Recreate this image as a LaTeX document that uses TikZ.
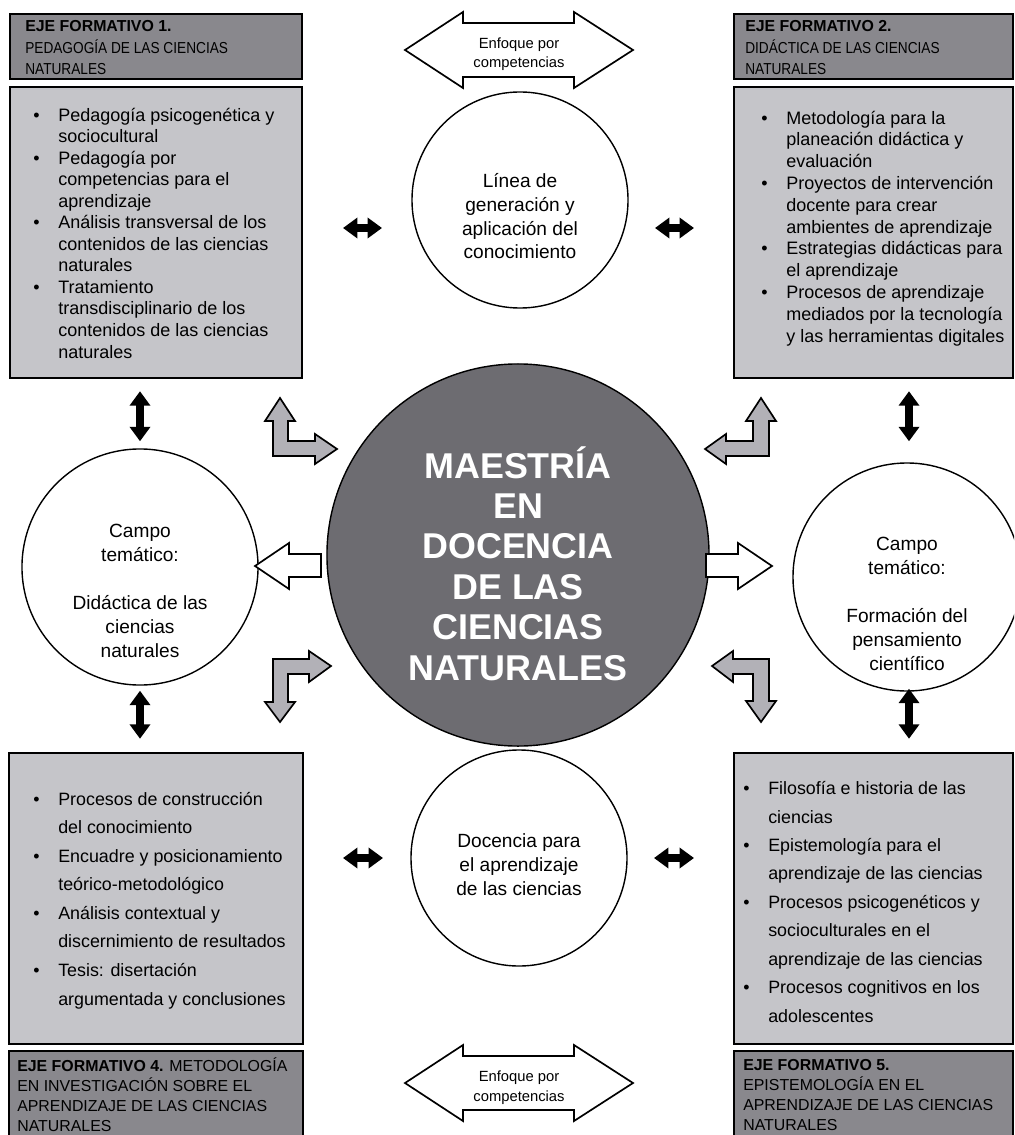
\documentclass[tikz,border=0pt]{standalone}
\usepackage{fontspec}
\setmainfont{Liberation Sans}
\newfontfamily\angosta[FakeStretch=0.86]{Liberation Sans}
\usetikzlibrary{arrows.meta,calc}

\definecolor{ejegris}{RGB}{137,136,141}
\definecolor{cajagris}{RGB}{197,197,201}
\definecolor{centrogris}{RGB}{109,108,113}
\definecolor{girogris}{RGB}{178,177,183}

\newcommand{\punto}{\makebox[0.625cm][l]{\textbullet}}
\newcommand{\sigue}{\hspace*{0.625cm}}

\tikzset{
  eje/.style={draw, line width=1.4pt, fill=ejegris, anchor=north west, inner sep=0pt},
  caja/.style={draw, line width=1.4pt, fill=cajagris, anchor=north west, inner sep=0pt},
  ejetexto/.style={anchor=base west, align=left, inner sep=0pt},
  lista/.style={anchor=base west, align=left, inner sep=0pt},
  circulo/.style={circle, draw, line width=1pt, fill=white, inner sep=0pt},
  circtexto/.style={anchor=base, align=center, inner sep=0pt, font=\fontsize{13.6}{17}\selectfont},
  bloque/.style={draw, line width=1.2pt, line join=miter},
  enfoque/.style={anchor=base, align=center, inner sep=0pt, font=\fontsize{10.5}{14}\selectfont},
  doble/.style={line width=1.8mm, <->, >={Triangle[length=3.6mm,width=5mm]}},
}

\begin{document}
\begin{tikzpicture}[x=0.025cm, y=-0.025cm]
\useasboundingbox (0,0) rectangle (1014,1135);
\clip (0,0) rectangle (1014,1135);

% ejes formativos
\node[eje, minimum width=7.3cm, minimum height=1.625cm] (eje1) at (9,13) {};
\node[caja, minimum width=7.3cm, minimum height=7.275cm] (caja1) at (9,86) {};
\node[eje, minimum width=6.975cm, minimum height=1.625cm] (eje2) at (733,13) {};
\node[caja, minimum width=6.975cm, minimum height=7.275cm] (caja2) at (733,86) {};
\node[caja, minimum width=7.35cm, minimum height=7.275cm] (caja4) at (8,752) {};
\node[eje, minimum width=7.35cm, minimum height=2.5cm] (eje4) at (8,1050) {};
\node[caja, minimum width=6.975cm, minimum height=7.275cm] (caja5) at (733,752) {};
\node[eje, minimum width=6.975cm, minimum height=2.5cm] (eje5) at (733,1050) {};

% textos (base = ultima linea)
\node[ejetexto, font=\fontsize{11.3}{15.4}\selectfont] (tit1) at (25,75)
  {\textbf{EJE FORMATIVO 1.}\\{\angosta PEDAGOGÍA DE LAS CIENCIAS}\\{\angosta NATURALES}};
\node[ejetexto, font=\fontsize{11.3}{15.4}\selectfont] (tit2) at (745,75)
  {\textbf{EJE FORMATIVO 2.}\\{\angosta DIDÁCTICA DE LAS CIENCIAS}\\{\angosta NATURALES}};
\node[ejetexto, font=\fontsize{11.3}{14.2}\selectfont] (tit4) at (17,1131)
  {\textbf{EJE FORMATIVO 4.} METODOLOGÍA\\EN INVESTIGACIÓN SOBRE EL\\APRENDIZAJE DE LAS CIENCIAS\\NATURALES};
\node[ejetexto, font=\fontsize{11.3}{14.2}\selectfont] (tit5) at (743,1130)
  {\textbf{EJE FORMATIVO 5.}\\EPISTEMOLOGÍA EN EL\\APRENDIZAJE DE LAS CIENCIAS\\NATURALES};

\node[lista, font=\fontsize{12.8}{15.3}\selectfont] (lista1) at (33,358)
  {\punto Pedagogía psicogenética y\\\sigue sociocultural\\
   \punto Pedagogía por\\\sigue competencias para el\\\sigue aprendizaje\\
   \punto Análisis transversal de los\\\sigue contenidos de las ciencias\\\sigue naturales\\
   \punto Tratamiento\\\sigue transdisciplinario de los\\\sigue contenidos de las ciencias\\\sigue naturales};
\node[lista, font=\fontsize{12.8}{15.5}\selectfont] (lista2) at (761,342)
  {\punto Metodología para la\\\sigue planeación didáctica y\\\sigue evaluación\\
   \punto Proyectos de intervención\\\sigue docente para crear\\\sigue ambientes de aprendizaje\\
   \punto Estrategias didácticas para\\\sigue el aprendizaje\\
   \punto Procesos de aprendizaje\\\sigue mediados por la tecnología\\\sigue y las herramientas digitales};
\node[lista, font=\fontsize{12.7}{20.3}\selectfont] (lista4) at (33,1005)
  {\punto Procesos de construcción\\\sigue del conocimiento\\
   \punto Encuadre y posicionamiento\\\sigue teórico-metodológico\\
   \punto Análisis contextual y\\\sigue discernimiento de resultados\\
   \punto Tesis: disertación\\\sigue argumentada y conclusiones};
\node[lista, font=\fontsize{12.7}{20.2}\selectfont] (lista5) at (743,1022)
  {\punto Filosofía e historia de las\\\sigue ciencias\\
   \punto Epistemología para el\\\sigue aprendizaje de las ciencias\\
   \punto Procesos psicogenéticos y\\\sigue socioculturales en el\\\sigue aprendizaje de las ciencias\\
   \punto Procesos cognitivos en los\\\sigue adolescentes};

% enfoque por competencias
\draw[bloque, fill=white] (405,50) -- ++(58,-38) -- ++(0,11) -- ++(111,0) -- ++(0,-11)
  -- ++(59,38) -- ++(-59,38) -- ++(0,-11) -- ++(-111,0) -- ++(0,11) -- cycle;
\node[enfoque] (enfA) at (519,68) {Enfoque por\\competencias};
\draw[bloque, fill=white] (405,1083) -- ++(58,-38) -- ++(0,11) -- ++(111,0) -- ++(0,-11)
  -- ++(59,38) -- ++(-59,38) -- ++(0,-11) -- ++(-111,0) -- ++(0,11) -- cycle;
\node[enfoque] (enfB) at (519,1101) {Enfoque por\\competencias};

% circulos
\node[circulo, minimum size=5.4cm] (lgac) at (520,200) {};
\node[circtexto] (lgactexto) at (520,259) {Línea de\\generación y\\aplicación del\\conocimiento};
\node[circulo, minimum size=5.9cm] (campoA) at (140,567) {};
\node[circtexto] (campoAtexto) at (140,657) {Campo\\temático:\\[17pt]Didáctica de las\\ciencias\\naturales};
\node[circulo, minimum size=5.7cm] (campoB) at (907,577) {};
\node[circtexto] (campoBtexto) at (907,670) {Campo\\temático:\\[17pt]Formación del\\pensamiento\\científico};
\node[circulo, minimum size=5.4cm] (docencia) at (519,858) {};
\node[circtexto] (docenciatexto) at (519,895) {Docencia para\\el aprendizaje\\de las ciencias};
\node[circle, draw, line width=1pt, fill=centrogris, minimum size=9.55cm] (maestria) at (518,555) {};
\node[anchor=base, align=center, inner sep=0pt, text=white,
  font=\fontsize{25.5}{28.7}\selectfont\bfseries] (maestriatexto) at (518,680)
  {MAESTRÍA\\EN\\DOCENCIA\\DE LAS\\CIENCIAS\\NATURALES};

% flechas de giro
\draw[bloque, fill=girogris] (273,456) -- (273,421) -- (265,421) -- (280,398) -- (295,421) -- (288,421)
  -- (288,441) -- (315,441) -- (315,434) -- (337,449) -- (315,464) -- (315,456) -- cycle;
\draw[bloque, fill=girogris] (769,456) -- (769,421) -- (776,421) -- (761,398) -- (746,421) -- (753,421)
  -- (753,441) -- (726,441) -- (726,434) -- (705,449) -- (726,464) -- (726,456) -- cycle;
\draw[bloque, fill=girogris] (273,659) -- (309,659) -- (309,651) -- (331,666) -- (309,682) -- (309,674)
  -- (288,674) -- (288,702) -- (295,702) -- (280,722) -- (265,702) -- (273,702) -- cycle;
\draw[bloque, fill=girogris] (769,659) -- (733,659) -- (733,651) -- (712,666) -- (733,682) -- (733,674)
  -- (753,674) -- (753,701) -- (746,701) -- (761,722) -- (776,701) -- (769,701) -- cycle;

% flechas blancas
\draw[bloque, fill=white] (321,554) -- (289,554) -- (289,543) -- (255,566) -- (289,589) -- (289,577) -- (321,577) -- cycle;
\draw[bloque, fill=white] (706,554) -- (738,554) -- (738,543) -- (772,566) -- (738,589) -- (738,577) -- (706,577) -- cycle;

% flechas negras
\draw[doble] ($(lgac)+(-177,28)$) -- ($(lgac)+(-138,28)$);
\draw[doble] ($(lgac)+(135,28)$) -- ($(lgac)+(174,28)$);
\draw[doble] ($(docencia)+(-176,0)$) -- ($(docencia)+(-136,0)$);
\draw[doble] ($(docencia)+(135,0)$) -- ($(docencia)+(175,0)$);
\draw[doble] ($(campoA.north)+(0,-7)$) -- ($(campoA.north)+(0,-57)$);
\draw[doble] ($(campoA.south)+(0,5)$) -- ($(campoA.south)+(0,53)$);
\draw[doble] ($(campoB.north)+(2,-21)$) -- ($(campoB.north)+(2,-71)$);
\draw[doble] ($(campoB.south)+(2,-3)$) -- ($(campoB.south)+(2,47)$);
\end{tikzpicture}
\end{document}
